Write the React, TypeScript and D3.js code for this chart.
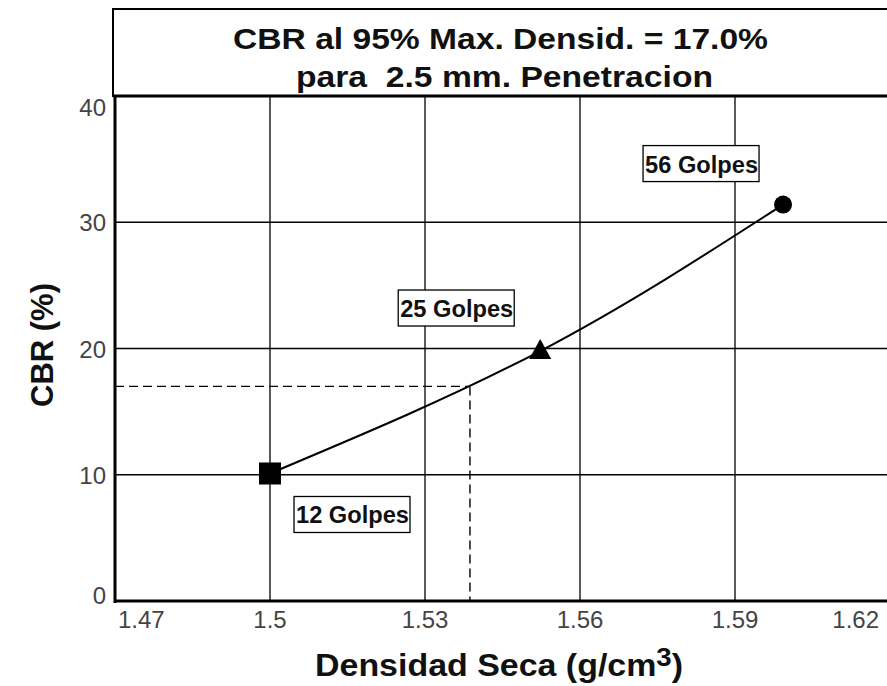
import React from "react";
import * as d3 from "d3";

const densities = [1.5, 1.5523, 1.5993];
const cbrValues = [10.1, 19.8, 31.4];
const pointLabels = ["12 Golpes", "25 Golpes", "56 Golpes"];
const markerShapes = ["square", "triangle", "circle"];
const xTicks = [1.47, 1.5, 1.53, 1.56, 1.59, 1.62];
const xTickLabels = ["1.47", "1.5", "1.53", "1.56", "1.59", "1.62"];
const yTicks = [0, 10, 20, 30, 40];
const targetCBR = 17.0;
const targetDensity = 1.5387;
const titleLines = ["CBR al 95% Max. Densid. = 17.0%", "para  2.5 mm. Penetracion"];

const W = 887;
const H = 686;
const LEFT = 115;
const TOP = 96;
const BOTTOM = 601;
const RIGHT = 890;
const labelOffsets: [number, number][] = [
  [82, 41],
  [-84, -43],
  [-82, -41],
];
const titleLayout = [
  { x: 233, w: 535, y: 49 },
  { x: 296, w: 417, y: 87 },
];
const FONT = "'Liberation Sans', Arial, sans-serif";

export default function App() {
  const x = d3.scaleLinear().domain([1.47, 1.62]).range([LEFT, RIGHT]);
  const y = d3.scaleLinear().domain([0, 40]).range([BOTTOM, TOP]);
  const pts: [number, number][] = densities.map((d, i) => [x(d), y(cbrValues[i])]);
  const line = d3.line().curve(d3.curveNatural)(pts) || "";

  return (
    <svg
      width={W}
      height={H}
      style={{ position: "absolute", left: 0, top: 0, background: "#fff" }}
      fontFamily={FONT}
    >
      <rect x={0} y={0} width={W} height={H} fill="#fff" />
      {/* title box */}
      <rect x={LEFT - 2} y={9} width={W} height={TOP - 9} fill="none" stroke="#000" strokeWidth={2} />
      {titleLines.map((t, i) => (
        <text
          key={i}
          x={titleLayout[i].x}
          y={titleLayout[i].y}
          textLength={titleLayout[i].w}
          lengthAdjust="spacingAndGlyphs"
          fontWeight="bold"
          fontSize={30}
          fill="#111"
          style={{ whiteSpace: "pre" }}
        >
          {t}
        </text>
      ))}
      {/* gridlines */}
      {xTicks.slice(1).map((t) => (
        <line key={"vx" + t} x1={x(t)} x2={x(t)} y1={TOP} y2={BOTTOM} stroke="#000" strokeWidth={1.3} />
      ))}
      {yTicks.slice(1, -1).map((t) => (
        <line key={"hy" + t} x1={LEFT} x2={W} y1={y(t)} y2={y(t)} stroke="#000" strokeWidth={1.3} />
      ))}
      <line x1={LEFT - 2} x2={W} y1={TOP} y2={TOP} stroke="#000" strokeWidth={3} />
      {/* dashed reference */}
      <line x1={LEFT} x2={x(targetDensity)} y1={y(targetCBR)} y2={y(targetCBR)} stroke="#000" strokeWidth={1.4} strokeDasharray="9,5" />
      <line x1={x(targetDensity)} x2={x(targetDensity)} y1={y(targetCBR)} y2={BOTTOM} stroke="#000" strokeWidth={1.4} strokeDasharray="9,5" />
      {/* axes */}
      <line x1={LEFT} x2={LEFT} y1={TOP - 1} y2={BOTTOM + 2} stroke="#000" strokeWidth={3} />
      <line x1={LEFT - 1} x2={W} y1={BOTTOM} y2={BOTTOM} stroke="#000" strokeWidth={3} />
      {/* curve */}
      <path d={line} fill="none" stroke="#000" strokeWidth={2} />
      {/* markers */}
      {pts.map(([px, py], i) => {
        const s = markerShapes[i];
        if (s === "square") return <rect key={i} x={px - 11} y={py - 11} width={22} height={22} fill="#000" />;
        if (s === "triangle")
          return <path key={i} d={`M${px},${py - 12} L${px + 11},${py + 8} L${px - 11},${py + 8} Z`} fill="#000" />;
        return <circle key={i} cx={px} cy={py} r={9} fill="#000" />;
      })}
      {/* point labels */}
      {pts.map(([px, py], i) => {
        const cx = px + labelOffsets[i][0];
        const cy = py + labelOffsets[i][1];
        return (
          <g key={"l" + i}>
            <rect x={cx - 58} y={cy - 18} width={116} height={36} fill="#fff" stroke="#000" strokeWidth={1.3} />
            <text
              x={cx - 56}
              y={cy + 9}
              textLength={113}
              lengthAdjust="spacingAndGlyphs"
              fontWeight="bold"
              fontSize={24}
              fill="#111"
            >
              {pointLabels[i]}
            </text>
          </g>
        );
      })}
      {/* x tick labels */}
      {xTicks.map((t, i) => {
        const first = i === 0;
        const last = i === xTicks.length - 1;
        return (
          <text
            key={"xt" + t}
            x={first ? LEFT + 3 : last ? 879 : x(t)}
            y={628}
            textAnchor={first ? "start" : last ? "end" : "middle"}
            fontSize={24}
            fill="#444"
          >
            {xTickLabels[i]}
          </text>
        );
      })}
      {/* y tick labels */}
      {yTicks.map((t, i) => {
        let yy = y(t) + 9;
        if (i === yTicks.length - 1) yy = y(t) + 20;
        if (i === 0) yy = y(t) + 3;
        return (
          <text key={"yt" + t} x={106} y={yy} textAnchor="end" fontSize={24} fill="#444">
            {t}
          </text>
        );
      })}
      {/* axis titles */}
      <text x={315} y={676} fontWeight="bold" fontSize={32} fill="#111" textLength={368} lengthAdjust="spacingAndGlyphs">
        Densidad Seca (g/cm
        <tspan fontSize={26} dy={-10}>3</tspan>
        <tspan dy={10}>)</tspan>
      </text>
      <text
        transform={`translate(53,345) rotate(-90)`}
        textAnchor="middle"
        fontWeight="bold"
        fontSize={31}
        fill="#111"
      >
        CBR (%)
      </text>
    </svg>
  );
}
